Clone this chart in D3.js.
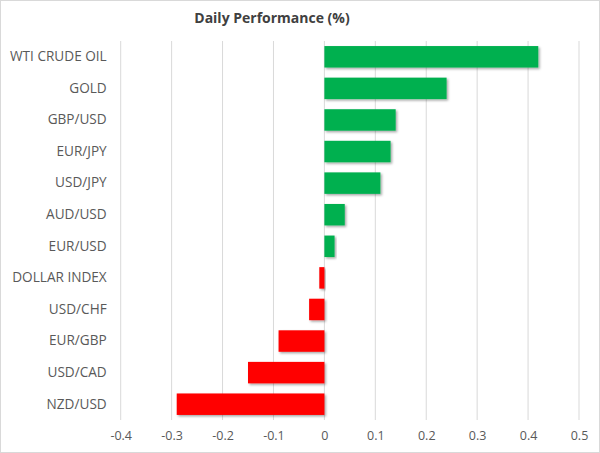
<!DOCTYPE html>
<html><head><meta charset="utf-8">
<script src="https://cdn.jsdelivr.net/npm/d3@7"></script>
<style>
body{margin:0;background:#fff;}
svg{display:block;font-family:"Open Sans","Liberation Sans",sans-serif;}
</style></head><body>
<svg id="chart" width="600" height="453"></svg>
<script>
const categories = ["WTI CRUDE OIL","GOLD","GBP/USD","EUR/JPY","USD/JPY","AUD/USD","EUR/USD","DOLLAR INDEX","USD/CHF","EUR/GBP","USD/CAD","NZD/USD"];
const values = [0.42,0.24,0.14,0.13,0.11,0.04,0.02,-0.01,-0.03,-0.09,-0.15,-0.29];
const tickValues = [-0.4,-0.3,-0.2,-0.1,0,0.1,0.2,0.3,0.4,0.5];
const tickLabels = ["-0.4","-0.3","-0.2","-0.1","0","0.1","0.2","0.3","0.4","0.5"];
const title = "Daily Performance (%)";

const svg = d3.select("#chart");
const W = 600, H = 453;
const m = {left:120.7, right:21, top:41, bottom:33};

svg.append("rect").attr("x",0.5).attr("y",0.5).attr("width",W-1).attr("height",H-1)
  .attr("fill","#fff").attr("stroke","#d9d9d9");

const defs = svg.append("defs");
const f = defs.append("filter").attr("id","sh").attr("x","-10%").attr("y","-20%").attr("width","130%").attr("height","160%");
f.append("feDropShadow").attr("dx",1.5).attr("dy",1.5).attr("stdDeviation",1.2).attr("flood-color","#000").attr("flood-opacity",0.35);

const x = d3.scaleLinear().domain([-0.4,0.5]).range([m.left, W-m.right]);
const y = d3.scaleBand().domain(categories).range([m.top, H-m.bottom]).paddingInner(0.32).paddingOuter(0.16);

// gridlines
svg.append("g").selectAll("line").data(tickValues).join("line")
  .attr("x1",d=>x(d)).attr("x2",d=>x(d)).attr("y1",m.top).attr("y2",H-m.bottom)
  .attr("stroke","#d9d9d9").attr("stroke-width",1);

// bars
svg.append("g").selectAll("rect").data(values).join("rect")
  .attr("x",d=>x(Math.min(0,d)))
  .attr("width",d=>Math.abs(x(d)-x(0)))
  .attr("y",(d,i)=>y(categories[i]))
  .attr("height",y.bandwidth())
  .attr("fill",d=>d>=0?"#00b050":"#ff0000")
  .attr("filter","url(#sh)");

// x axis
const xAxis = d3.axisBottom(x).tickValues(tickValues).tickFormat((d,i)=>tickLabels[i]).tickSize(0).tickPadding(11);
const gx = svg.append("g").attr("transform",`translate(0,${H-m.bottom})`).call(xAxis);
gx.select(".domain").remove();
gx.selectAll("text").attr("fill","#595959").style("font-size","12.5px").style("font-family","'Open Sans','Liberation Sans',sans-serif");

// y axis labels
const yAxis = d3.axisLeft(y).tickSize(0).tickPadding(14);
const gy = svg.append("g").attr("transform",`translate(${m.left},0)`).call(yAxis);
gy.select(".domain").remove();
gy.selectAll("text").attr("fill","#595959").style("font-size","13.6px").style("font-family","'Open Sans','Liberation Sans',sans-serif");

svg.append("text").attr("x",272).attr("y",23).attr("text-anchor","middle")
  .attr("fill","#404040").style("font-size","14px").style("font-weight","bold").text(title);
</script>
</body></html>
